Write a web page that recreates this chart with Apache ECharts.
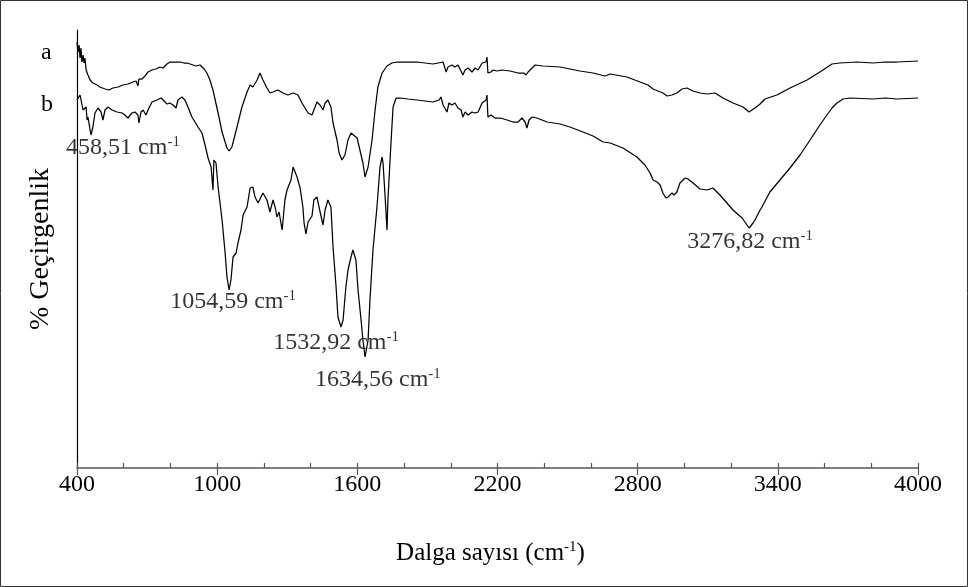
<!DOCTYPE html>
<html><head><meta charset="utf-8">
<script src="https://cdn.jsdelivr.net/npm/echarts@6/dist/echarts.min.js"></script>
<style>html,body{margin:0;padding:0;background:#fff}#c{width:968px;height:587px}</style>
</head><body><div id="c"></div>
<script>
// Wavenumber (cm-1) and relative transmittance, curve a
var wnA=[400,404,409,413,417,421,426,430,434,439,447,456,468,486,498,520,537,554,576,597,618,640,653,661,665,678,691,704,721,738,755,768,785,798,820,841,858,871,884,909,927,944,956,969,982,1004,1021,1034,1042,1051,1063,1085,1106,1128,1141,1153,1171,1183,1196,1213,1226,1239,1260,1282,1303,1325,1346,1363,1376,1389,1406,1419,1427,1440,1453,1462,1474,1487,1496,1513,1522,1534,1547,1560,1573,1581,1599,1611,1624,1633,1646,1663,1676,1688,1706,1727,1748,1770,1795,1855,1924,1967,1980,1988,2005,2018,2031,2052,2061,2074,2091,2104,2117,2134,2142,2151,2155,2159,2172,2181,2198,2219,2254,2288,2313,2322,2331,2348,2361,2395,2468,2553,2609,2660,2682,2754,2810,2844,2866,2887,2908,2926,2947,2968,2990,3011,3037,3067,3097,3131,3165,3208,3251,3277,3302,3324,3345,3396,3452,3525,3580,3632,3666,3739,3807,3859,3910,4000];
var tA=[85.2,83.2,84.6,82.0,84.0,81.2,82.6,81.0,82.0,79.6,78.6,77.6,77.0,76.6,76.2,75.8,75.6,76.0,76.2,76.6,76.8,77.2,77.4,76.4,77.8,77.8,78.4,79.2,79.6,79.8,80.2,80.0,80.8,81.2,81.2,81.2,81.0,81.0,80.8,80.4,80.6,79.8,79.0,77.6,75.6,71.0,67.2,65.2,64.0,63.4,64.2,68.2,72.2,75.2,76.6,76.2,77.6,79.0,77.6,76.0,75.0,75.2,75.6,75.0,74.6,75.0,74.6,73.0,72.0,71.0,70.6,72.2,73.2,72.6,71.6,73.0,73.6,72.2,69.0,65.6,63.0,61.6,62.6,65.6,67.0,67.2,66.0,63.6,61.0,58.2,60.2,65.6,71.6,76.2,79.0,80.4,81.0,81.2,81.2,81.2,80.8,81.2,79.2,80.2,80.6,80.2,80.6,78.6,79.6,80.0,79.2,80.0,79.6,81.0,80.6,81.2,82.2,79.0,79.2,79.6,79.4,79.6,79.4,79.0,79.0,78.6,79.2,80.0,80.6,80.4,80.2,79.4,79.0,78.4,78.8,78.2,77.2,76.6,75.8,75.4,75.0,74.4,74.6,75.0,75.8,76.0,75.4,75.0,74.8,75.0,74.0,73.0,72.2,71.2,72.0,72.8,73.8,74.6,76.0,77.6,79.2,80.8,81.0,81.2,81.0,81.2,81.2,81.4];
// curve b
var wnB=[400,404,413,421,426,439,443,447,456,460,468,477,490,503,511,520,533,550,571,593,605,618,635,648,661,665,674,683,695,700,708,721,742,760,768,785,798,811,824,832,849,862,875,892,905,918,935,948,961,974,982,986,995,1004,1021,1034,1042,1051,1059,1068,1081,1089,1102,1111,1115,1128,1141,1153,1162,1175,1196,1213,1226,1239,1248,1256,1265,1278,1290,1299,1316,1325,1342,1355,1367,1372,1380,1389,1406,1414,1427,1436,1453,1462,1474,1487,1496,1509,1517,1530,1539,1551,1560,1573,1581,1594,1603,1616,1624,1633,1646,1654,1667,1684,1697,1706,1710,1718,1727,1731,1744,1753,1766,1783,1817,1855,1924,1950,1958,1967,1975,1984,1992,2005,2018,2031,2044,2052,2061,2074,2091,2104,2117,2134,2142,2151,2155,2159,2172,2189,2211,2241,2266,2288,2305,2318,2326,2335,2348,2369,2412,2468,2510,2566,2609,2652,2682,2737,2797,2831,2853,2866,2883,2896,2908,2921,2930,2947,2956,2968,2981,3003,3015,3037,3067,3097,3122,3152,3182,3208,3247,3268,3277,3294,3302,3324,3332,3366,3409,3452,3495,3538,3580,3610,3632,3653,3679,3709,3807,3859,3910,4000];
var tB=[73.6,73.2,74.6,75.0,71.6,72.2,69.6,70.2,67.6,66.6,68.2,71.0,72.0,71.2,69.6,71.6,72.2,71.6,71.2,71.0,70.6,70.0,71.0,71.2,70.6,69.0,71.2,71.6,70.6,70.2,72.0,73.2,73.6,74.0,73.6,72.8,73.0,72.6,72.0,73.6,74.2,73.6,72.2,70.2,69.2,68.2,67.0,64.6,62.0,60.2,55.6,61.6,61.0,56.2,49.6,43.0,38.2,35.6,37.6,42.2,43.0,45.0,47.6,50.6,50.2,52.2,56.0,56.2,54.2,53.0,55.0,53.6,51.2,53.6,52.2,50.2,51.2,47.6,53.6,55.6,57.6,60.2,58.2,56.0,52.2,49.0,46.8,49.2,50.4,53.6,54.2,52.2,48.6,51.6,53.6,52.2,44.2,36.2,30.2,28.2,29.6,36.2,39.6,42.2,43.6,41.6,35.6,29.6,25.6,22.2,25.6,33.6,43.6,52.2,60.2,62.2,61.0,55.0,47.6,53.6,65.0,72.2,74.0,74.0,73.8,73.6,73.2,73.6,74.2,72.6,73.0,71.2,73.0,72.6,73.0,72.0,71.6,70.2,71.2,70.6,71.2,71.0,71.2,73.0,72.6,73.6,74.6,70.2,70.6,70.0,70.0,69.6,69.2,69.2,70.0,69.2,68.0,69.6,70.2,70.0,69.2,68.8,68.2,67.2,66.4,65.2,65.0,64.0,62.2,60.6,59.0,57.6,57.2,56.6,55.0,54.0,54.2,55.0,54.6,55.2,57.0,58.0,57.8,57.0,55.8,55.6,56.0,54.6,53.0,51.6,50.0,48.6,48.0,49.0,49.6,51.6,52.2,55.2,57.6,60.0,62.6,65.6,68.6,70.6,72.0,73.0,73.8,74.0,73.8,74.0,73.8,74.0];
// peak annotations (text anchor positions in data units)
var annText=['458,51','1054,59','1532,92','1634,56','3276,82'];
var annWn=[597,1068,1509,1688,3281];
var annT=[64.0,33.2,25.0,17.6,45.2];
var xTicks=[400,1000,1600,2200,2800,3400,4000];
var curveNames=['a','b'];

var FONT='Liberation Serif';
function zip(x,y){return x.map(function(v,i){return [v,y[i]];});}
var chart=echarts.init(document.getElementById('c'),null,{renderer:'canvas'});
var lineStyle={color:'#000',width:1.25};
var supStyle={fontFamily:FONT,fontSize:15,color:'#000',verticalAlign:'top',padding:[0,0,12,0]};
chart.setOption({
  animation:false,
  backgroundColor:'#fff',
  grid:{left:77,right:50,top:30,bottom:119},
  xAxis:[{
    type:'value',min:xTicks[0],max:xTicks[xTicks.length-1],interval:600,position:'bottom',
    name:'{n|Dalga sayısı (cm}{s|-1}{n|)}',nameLocation:'middle',nameGap:72,
    nameTextStyle:{padding:[0,14,0,0],rich:{n:{fontFamily:FONT,fontSize:25,color:'#000'},s:supStyle}},
    axisLine:{show:true,lineStyle:{color:'#555',width:1.5}},
    axisTick:{show:true,inside:false,length:7,lineStyle:{color:'#555',width:1.2}},
    axisLabel:{fontFamily:FONT,fontSize:24,color:'#000',margin:5,formatter:function(v){return String(v);}},
    splitLine:{show:false}
  },{
    type:'value',min:xTicks[0],max:xTicks[xTicks.length-1],interval:200,position:'bottom',offset:0,
    axisLine:{show:false},
    axisTick:{show:true,inside:true,length:5,lineStyle:{color:'#555',width:1.2}},
    axisLabel:{show:false},splitLine:{show:false}
  }],
  yAxis:{
    type:'value',min:0,max:87.6,
    name:'% Geçirgenlik',nameLocation:'middle',nameGap:22,nameRotate:90,
    nameTextStyle:{fontFamily:FONT,fontSize:28,color:'#000'},
    axisLine:{show:true,lineStyle:{color:'#000',width:1.2}},
    axisTick:{show:false},axisLabel:{show:false},splitLine:{show:false}
  },
  series:[
    {name:curveNames[0],type:'line',data:zip(wnA,tA),showSymbol:false,symbol:'none',lineStyle:lineStyle,smooth:false},
    {name:curveNames[1],type:'line',data:zip(wnB,tB),showSymbol:false,symbol:'none',lineStyle:lineStyle,smooth:false},
    {type:'scatter',symbolSize:0,silent:true,z:5,
     data:annWn.map(function(w,i){return {value:[w,annT[i]],txt:annText[i]};}),
     label:{show:true,position:'inside',formatter:function(p){return '{n|'+p.data.txt+' cm}{s|-1}';},
       rich:{n:{fontFamily:FONT,fontSize:24,color:'#000'},s:supStyle}}}
  ],
  graphic:[
    {type:'rect',shape:{x:0.5,y:0.5,width:967,height:586},style:{fill:'none',stroke:'#333',lineWidth:1},silent:true},
    {type:'text',left:41,top:41,style:{text:curveNames[0],font:'24px "Liberation Serif"',fill:'#000'}},
    {type:'text',left:41,top:93,style:{text:curveNames[1],font:'24px "Liberation Serif"',fill:'#000'}}
  ]
});
</script></body></html>
